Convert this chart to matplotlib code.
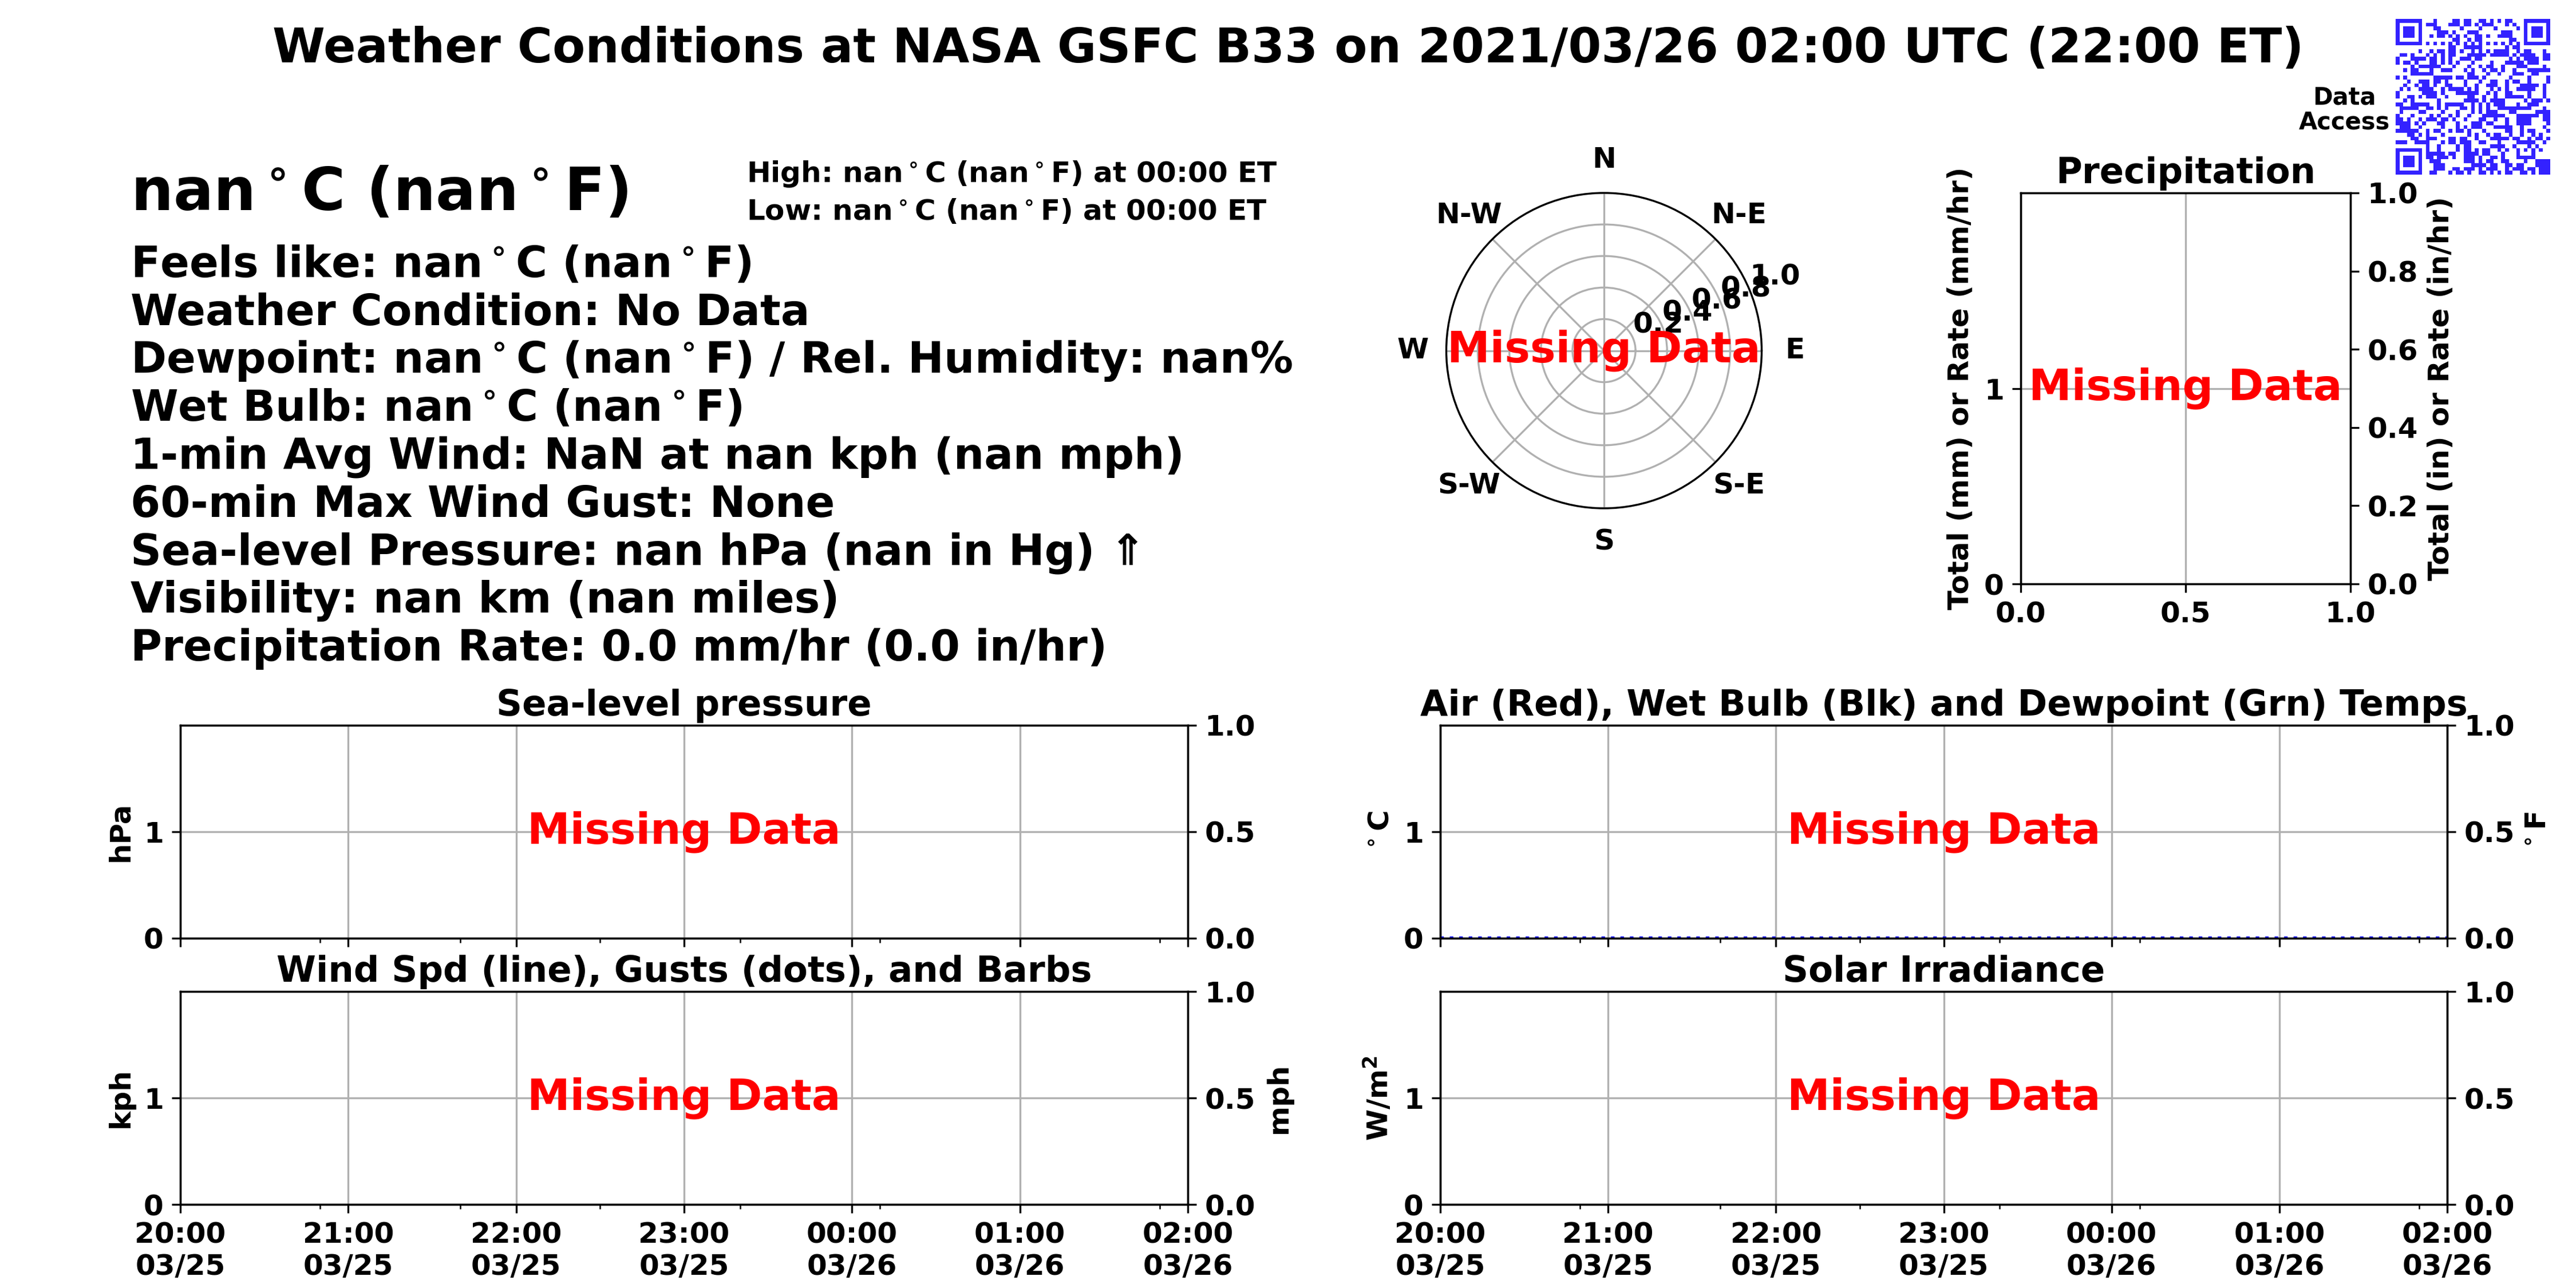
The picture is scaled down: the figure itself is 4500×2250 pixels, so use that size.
import numpy as np
import matplotlib
matplotlib.use("Agg")
import matplotlib.pyplot as plt
import matplotlib.dates as mdates
import pandas as pd
from matplotlib.colors import ListedColormap

# ---------------- data ----------------
title = "Weather Conditions at NASA GSFC B33 on 2021/03/26 02:00 UTC (22:00 ET)"
big_temp = r"nan$^\circ$C (nan$^\circ$F)"
high_text = r"High: nan$^\circ$C (nan$^\circ$F) at 00:00 ET"
low_text = r"Low: nan$^\circ$C (nan$^\circ$F) at 00:00 ET"
current_lines = [
    r"Feels like: nan$^\circ$C (nan$^\circ$F)",
    "Weather Condition: No Data",
    r"Dewpoint: nan$^\circ$C (nan$^\circ$F) / Rel. Humidity: nan%",
    r"Wet Bulb: nan$^\circ$C (nan$^\circ$F)",
    "1-min Avg Wind: NaN at nan kph (nan mph)",
    "60-min Max Wind Gust: None",
    "Sea-level Pressure: nan hPa (nan in Hg) \u21d1",
    "Visibility: nan km (nan miles)",
    "Precipitation Rate: 0.0 mm/hr (0.0 in/hr)",
]
time_start = pd.Timestamp("2021-03-25 20:00")
time_end = pd.Timestamp("2021-03-26 02:00")
freeze_times = [time_start, time_end]
freeze_c = [0.0, 0.0]
left_yticks = [0, 1]
left_ylim = [0, 2]
right_ticks_small = [0.0, 0.5, 1.0]
right_ticks_precip = [0.0, 0.2, 0.4, 0.6, 0.8, 1.0]
precip_xticks = [0.0, 0.5, 1.0]
compass_angles = [0, 45, 90, 135, 180, 225, 270, 315]
compass_labels = ["E", "N-E", "N", "N-W", "W", "S-W", "S", "S-E"]
radial_ticks = [0.2, 0.4, 0.6, 0.8, 1.0]
missing_text = "Missing Data"

qr_rows = [
    "11111110001000011011001101010110001111111",
    "10000010111000111011010111000101001000001",
    "10111010001100000100001000100000101011101",
    "10111010000111010001110000001110001011101",
    "10111010010110101010011010011110001011101",
    "10000010000000011001011000000011001000001",
    "11111110101010101010101010101010101111111",
    "00000000000000110011111000000101100000000",
    "00000010010110110100101010111100101100010",
    "01101000101010110001111101111101011110011",
    "10001111011010100111011000000010101111011",
    "10110100011010101000100001000111110111000",
    "00001011111100010001001011001000111000010",
    "00101100010011100010100101101001000111111",
    "00001111110000000001100010010001110011000",
    "10100000001111101101110100000010000100001",
    "00010011101101000010001001100101100100001",
    "00100101101001100010010011100100011111010",
    "01010011110010111101010001010100111110010",
    "10000001111010001111110010100110000100010",
    "10011010111001000001100100100111110100010",
    "00101000000100000011110101111000001011101",
    "11001111100101111100101010111000100111000",
    "01111100110101000110101010011111111100010",
    "01000011000010001000101011100011000001111",
    "10001000010100101001000111111000111111011",
    "11010010111011010010001100100100111100011",
    "11110101000110001000111011000100111100001",
    "01110010000010001010111000111110010000010",
    "11111100101100101101000100000110010110001",
    "00011010100010000001010010110010010010100",
    "00001100111000110110010001111101100101101",
    "11100111100010110111001100010000111110010",
    "00000000100100001011000001111001000101000",
    "11111110100100001011010110010100101010100",
    "10000010111110110011110110001000100010000",
    "10111010110111010011101001101000111110000",
    "10111010011100000011101011001100001001111",
    "10111010001110000000111101100110110001111",
    "10000010001110011011101011100101110110111",
    "11111110011000101101001101010110011010111",
]
qr_matrix = np.array([[int(c) for c in r.ljust(41, "0")[:41]] for r in qr_rows])

# ---------------- style ----------------
plt.rcParams.update({
    "font.family": ["DejaVu Sans"],
    "font.weight": "bold",
    "axes.titleweight": "bold",
    "axes.labelweight": "bold",
    "font.size": 12,
    "axes.titlesize": 15,
    "axes.labelsize": 12,
    "axes.titlepad": 4.0,
})

W, H = 4500, 2250
fig = plt.figure(figsize=(15, 7.5), dpi=300)


def rect(x0, y0, x1, y1):
    return [x0 / W, 1 - y1 / H, (x1 - x0) / W, (y1 - y0) / H]


fig.text(0.5, 1 - 109 / H, title, ha="center", va="baseline", fontsize=20)

# current conditions text
fig.text(228 / W, 1 - 367 / H, big_temp, ha="left", va="baseline", fontsize=25)
fig.text(1304 / W, 1 - 318 / H, high_text, ha="left", va="baseline", fontsize=12)
fig.text(1304 / W, 1 - 384 / H, low_text, ha="left", va="baseline", fontsize=12)
for i, line in enumerate(current_lines):
    fig.text(228 / W, 1 - (484 + 83.7 * i) / H, line, ha="left", va="baseline", fontsize=18)

# data access + QR
fig.text(4095 / W, 1 - 192 / H, "Data\nAccess", ha="center", va="center",
         fontsize=10, linespacing=1.05, multialignment="center")
ax_qr = fig.add_axes(rect(4185, 33, 4455, 305))
ax_qr.imshow(qr_matrix, cmap=ListedColormap(["white", "#3322ff"]),
             interpolation="nearest", aspect="auto")
ax_qr.axis("off")

# wind rose (polar)
ax_p = fig.add_axes(rect(2526, 337, 3078, 888), projection="polar")
ax_p.set_thetagrids(compass_angles, labels=compass_labels)
ax_p.set_rticks(radial_ticks)
ax_p.set_rlim(0, 1.0)
ax_p.set_rlabel_position(22.5)
ax_p.grid(True, color="#b0b0b0", linewidth=0.8)
ax_p.tick_params(labelsize=12)
ax_p.text(0.5, 0.5, missing_text, transform=ax_p.transAxes, ha="center", va="center",
          color="red", fontsize=18)

# precipitation
ax_pr = fig.add_axes(rect(3530, 337, 4106, 1020))
ax_pr.set_xlim(0, 1)
ax_pr.set_ylim(*left_ylim)
ax_pr.set_yticks(left_yticks)
ax_pr.set_xticks(precip_xticks)
ax_pr.grid(True, color="#b0b0b0", linewidth=0.8)
ax_pr.set_title("Precipitation")
ax_pr.set_ylabel("Total (mm) or Rate (mm/hr)")
ax_pr.text(0.5, 0.5, missing_text, transform=ax_pr.transAxes, ha="center", va="center",
           color="red", fontsize=18)
ax_pr2 = ax_pr.twinx()
ax_pr2.set_ylim(0, 1)
ax_pr2.set_yticks(right_ticks_precip)
ax_pr2.set_ylabel("Total (in) or Rate (in/hr)")

# time series panels
minor_times = pd.date_range(time_start, time_end, freq="50min")
panels = [
    (rect(315, 1267, 2075, 1639), "Sea-level pressure", "hPa", None, False, False),
    (rect(315, 1732, 2075, 2104), "Wind Spd (line), Gusts (dots), and Barbs", "kph", "mph", True, False),
    (rect(2516, 1267, 4275, 1639), "Air (Red), Wet Bulb (Blk) and Dewpoint (Grn) Temps",
     r"$^\circ$C", r"$^\circ$F", False, True),
    (rect(2516, 1732, 4275, 2104), "Solar Irradiance", r"W/m$^2$", None, True, False),
]
for r_, ttl, lyl, ryl, show_x, freeze in panels:
    ax = fig.add_axes(r_)
    ax.set_xlim(time_start, time_end)
    ax.set_ylim(*left_ylim)
    ax.set_yticks(left_yticks)
    ax.xaxis.set_major_locator(mdates.HourLocator())
    ax.xaxis.set_major_formatter(mdates.DateFormatter("%H:%M\n%m/%d"))
    ax.set_xticks(mdates.date2num(minor_times.to_pydatetime()), minor=True)
    ax.tick_params(axis="x", labelbottom=show_x)
    ax.grid(True, which="major", color="#b0b0b0", linewidth=0.8)
    ax.set_title(ttl)
    ax.set_ylabel(lyl)
    if freeze:
        ax.plot(freeze_times, freeze_c, "b:", linewidth=1.5)
    ax.text(0.5, 0.5, missing_text, transform=ax.transAxes, ha="center", va="center",
            color="red", fontsize=18)
    ax2 = ax.twinx()
    ax2.set_ylim(0, 1)
    ax2.set_yticks(right_ticks_small)
    if ryl:
        ax2.set_ylabel(ryl)

fig.savefig("out.png", dpi=300)
